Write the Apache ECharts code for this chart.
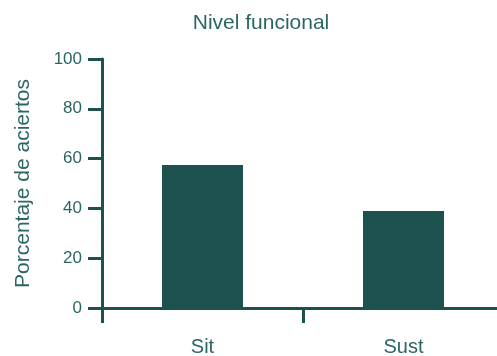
<!DOCTYPE html>
<html><head><meta charset="utf-8">
<script src="https://cdn.jsdelivr.net/npm/echarts@6/dist/echarts.min.js"></script>
<style>html,body{margin:0;padding:0;background:#fff}#c{width:497px;height:356px}</style>
</head><body><div id="c"></div>
<script>
const categories = ['Sit', 'Sust'];
const values = [57.4, 39.0];
const yTicks = [0, 20, 40, 60, 80, 100];

const dark = '#1d5150';
const txt = '#2b6663';
const font = 'Liberation Sans, Arial, sans-serif';
const chart = echarts.init(document.getElementById('c'));
chart.setOption({
  animation: false,
  title: { text: 'Nivel funcional', left: 256, top: 8, textAlign: 'center',
    textStyle: { fontFamily: font, fontSize: 21, fontWeight: 'normal', color: txt } },
  grid: { left: 102, width: 402, top: 59, height: 249, containLabel: false, outerBoundsMode: 'none' },
  xAxis: {
    type: 'category', data: categories, boundaryGap: true,
    axisLine: { lineStyle: { color: dark, width: 3 } },
    axisTick: { show: true, length: 15, lineStyle: { color: dark, width: 3 }, alignWithLabel: false },
    axisLabel: { margin: 29, fontFamily: font, fontSize: 20, color: txt }
  },
  yAxis: {
    type: 'value', min: yTicks[0], max: yTicks[yTicks.length - 1], interval: 20,
    name: 'Porcentaje de aciertos', nameLocation: 'middle', nameGap: 68,
    nameTextStyle: { fontFamily: font, fontSize: 21, color: txt },
    splitLine: { show: false },
    axisLine: { show: true, lineStyle: { color: dark, width: 3 } },
    axisTick: { show: true, length: 14, lineStyle: { color: dark, width: 3 } },
    axisLabel: { margin: 20, fontFamily: font, fontSize: 17, color: txt }
  },
  series: [{
    type: 'bar', data: values, barWidth: 81,
    itemStyle: { color: dark }
  }]
});
</script></body></html>
